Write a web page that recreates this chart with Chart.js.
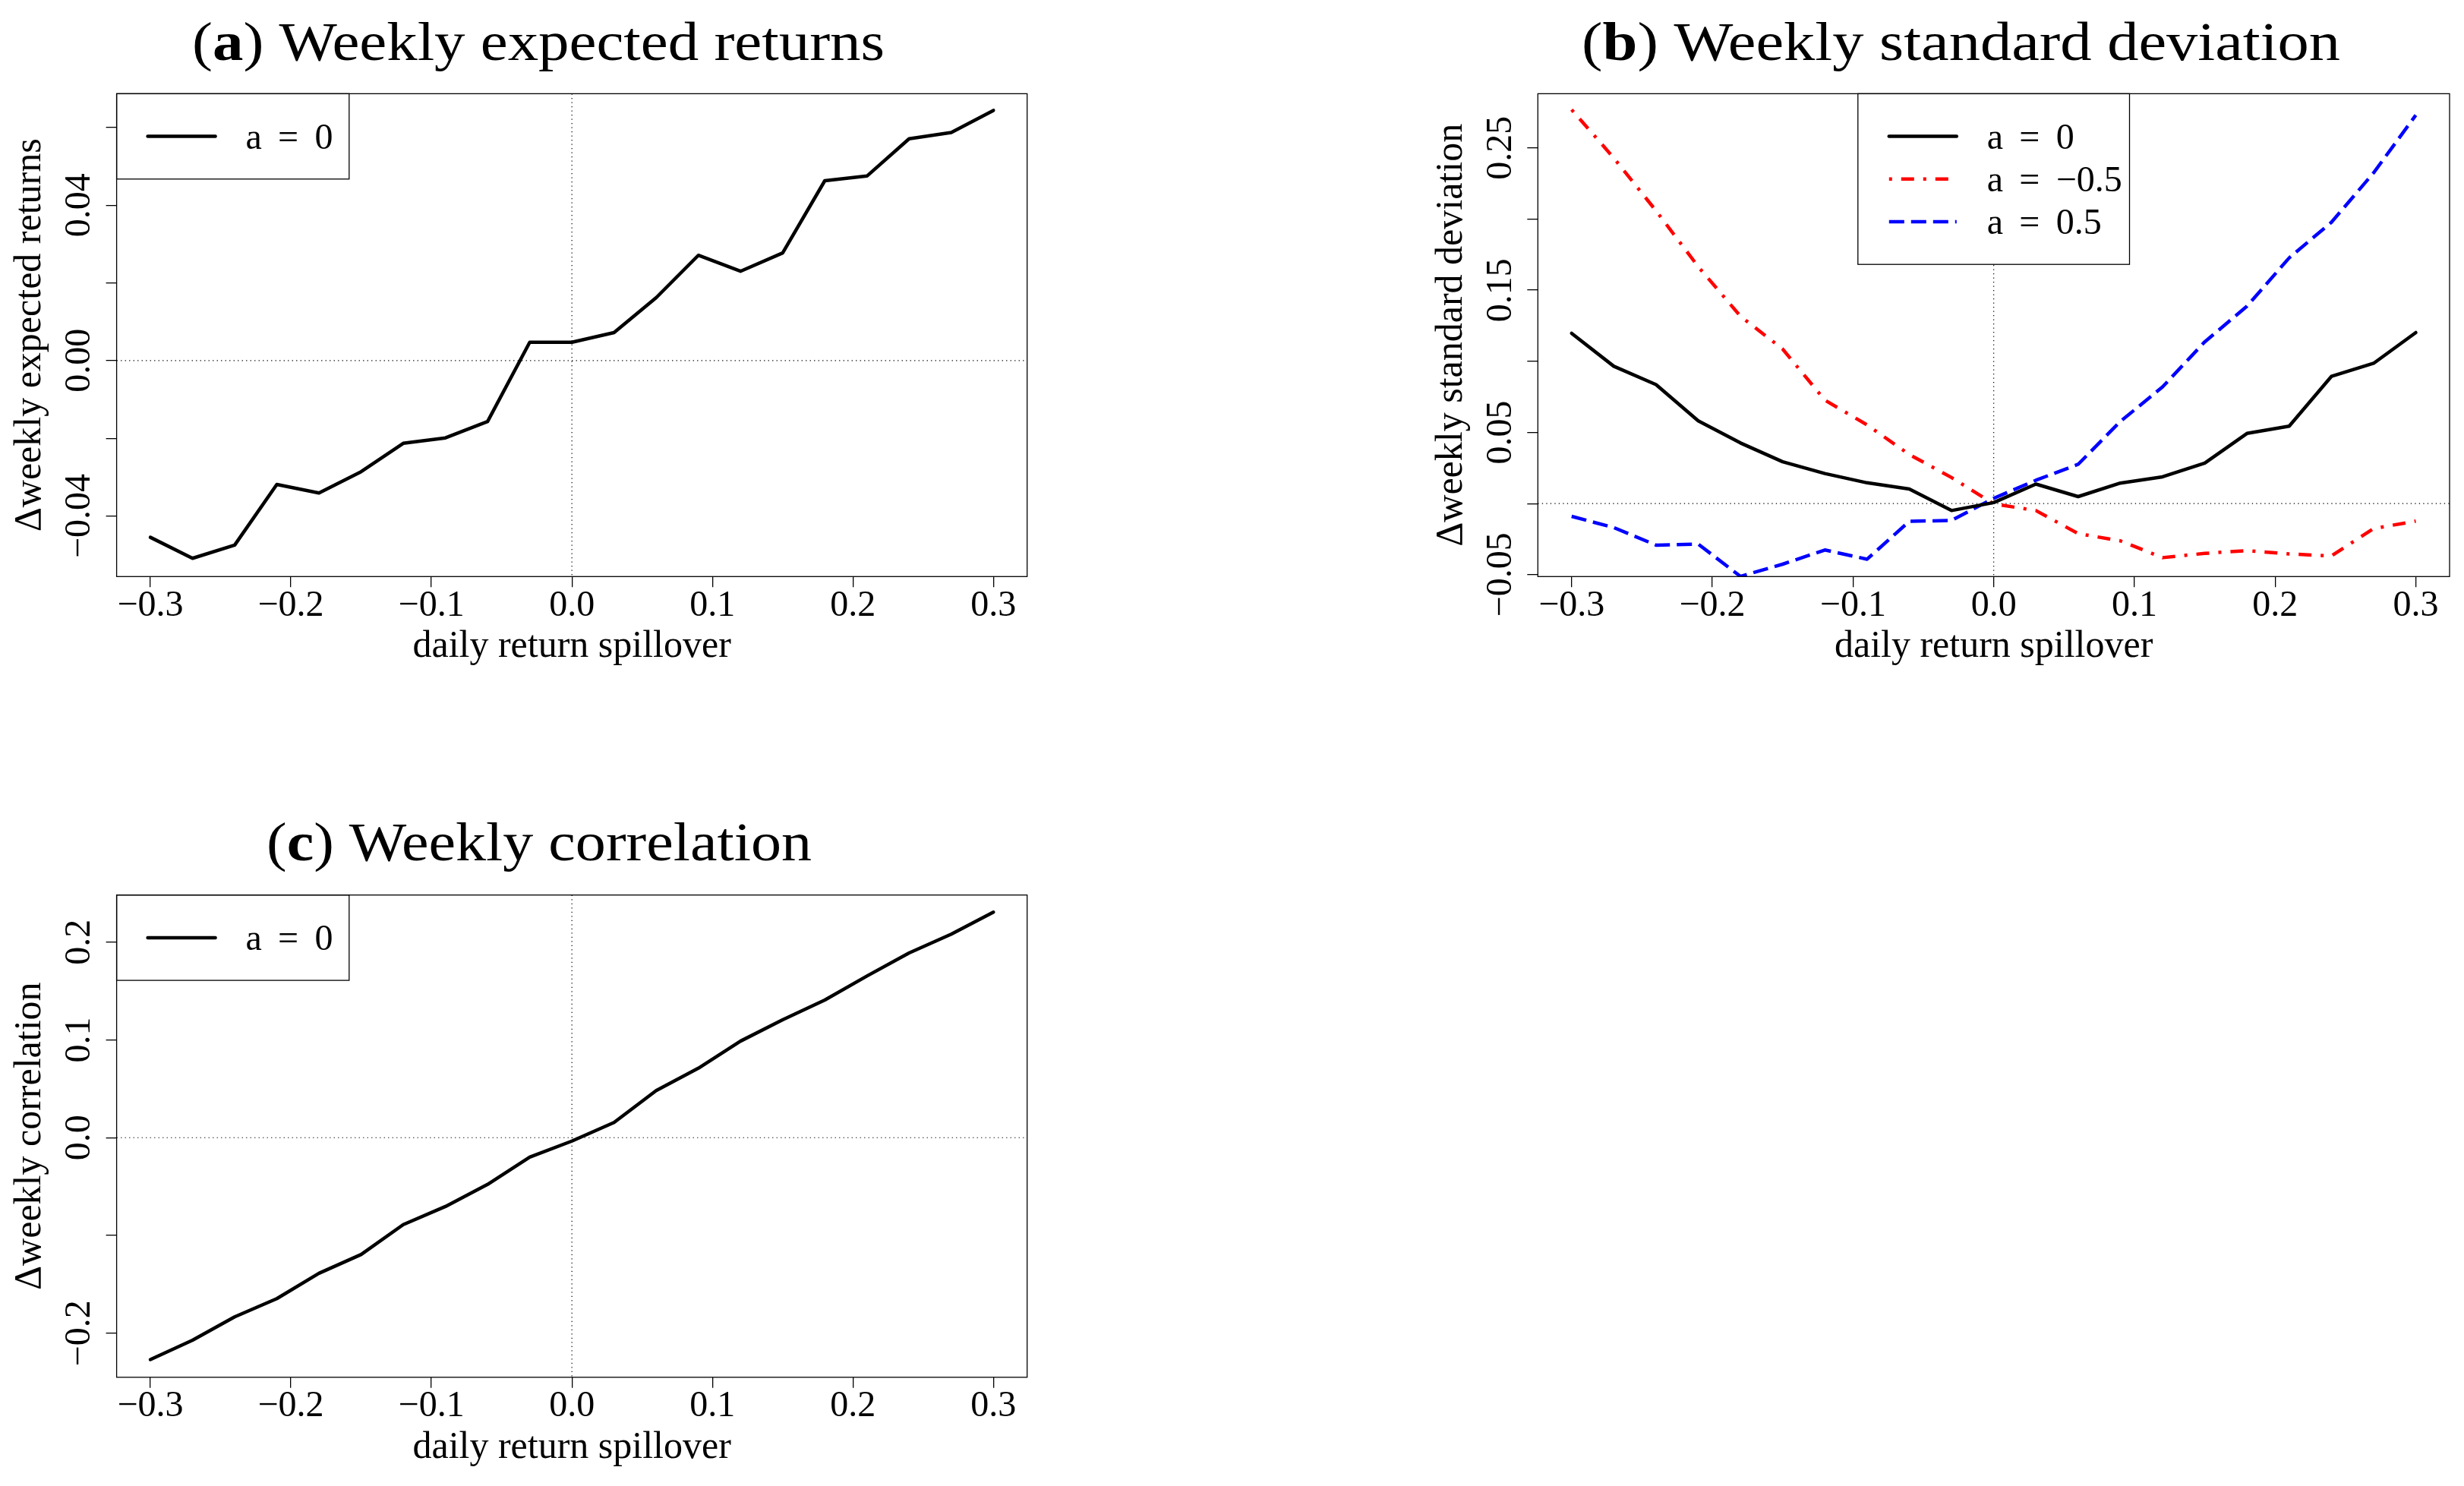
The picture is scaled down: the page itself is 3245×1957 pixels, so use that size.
<!DOCTYPE html>
<html><head><meta charset="utf-8">
<script src="https://cdn.jsdelivr.net/npm/chart.js@4.4.1/dist/chart.umd.min.js"></script>
<style>
html,body{margin:0;padding:0;background:#fff;}
body{width:3245px;height:1957px;position:relative;overflow:hidden;}
canvas{position:absolute;}
</style></head><body>
<canvas id="ca" width="1500" height="960" style="left:0;top:0;width:1500px;height:960px"></canvas>
<canvas id="cb" width="1395" height="960" style="left:1850px;top:0;width:1395px;height:960px"></canvas>
<canvas id="cc" width="1500" height="957" style="left:0;top:1000px;width:1500px;height:957px"></canvas>
<script>
// ---------- data ----------
const spillover = [-0.30,-0.27,-0.24,-0.21,-0.18,-0.15,-0.12,-0.09,-0.06,-0.03,0.00,0.03,0.06,0.09,0.12,0.15,0.18,0.21,0.24,0.27,0.30];

const retA0  = [-0.0455,-0.0509,-0.0475,-0.0319,-0.0341,-0.0286,-0.0213,-0.0199,-0.0157,0.0047,0.0047,0.0072,0.0162,0.0271,0.0230,0.0277,0.0463,0.0475,0.0571,0.0587,0.0644];

const sdA0   = [0.1197,0.0965,0.0836,0.0581,0.0426,0.0294,0.0211,0.0146,0.0102,-0.0049,0.0007,0.0137,0.0049,0.0144,0.0188,0.0285,0.0493,0.0544,0.0894,0.0986,0.1202];
const sdAm05 = [0.2769,0.2429,0.2058,0.1665,0.1317,0.1086,0.0727,0.0553,0.0345,0.0183,-0.0002,-0.0049,-0.0211,-0.0262,-0.0380,-0.0350,-0.0331,-0.0354,-0.0368,-0.0176,-0.0123];
const sdAp05 = [-0.0090,-0.0169,-0.0292,-0.0285,-0.0512,-0.0426,-0.0326,-0.0391,-0.0125,-0.0118,0.0037,0.0164,0.0276,0.0577,0.0820,0.1137,0.1387,0.1727,0.1977,0.2325,0.2730];

const corA0  = [-0.2269,-0.2071,-0.1832,-0.1646,-0.1387,-0.1195,-0.0889,-0.0704,-0.0478,-0.0199,-0.0035,0.0155,0.0481,0.0710,0.0987,0.1205,0.1407,0.1653,0.1889,0.2081,0.2306];

const xTickValues = [-0.3,-0.2,-0.1,0.0,0.1,0.2,0.3];
const xTickLabels = ['\u22120.3','\u22120.2','\u22120.1','0.0','0.1','0.2','0.3'];

const yTicksA  = [-0.04,-0.02,0.00,0.02,0.04,0.06];
const yLabelsA = ['\u22120.04','','0.00','','0.04',''];
const yTicksB  = [-0.05,0.00,0.05,0.10,0.15,0.20,0.25];
const yLabelsB = ['\u22120.05','','0.05','','0.15','','0.25'];
const yTicksC  = [-0.2,-0.1,0.0,0.1,0.2];
const yLabelsC = ['\u22120.2','','0.0','0.1','0.2'];

const legendA = ['a = 0'];
const legendB = ['a = 0','a = \u22120.5','a = 0.5'];
const legendC = ['a = 0'];

const refX = 0, refY = 0;

// ---------- styling / drawing ----------
const FAM = "'Liberation Serif', 'Times New Roman', serif";
Chart.defaults.font.family = FAM;

function pts(ys){ return spillover.map((x,i)=>({x:x, y:ys[i]})); }

const rFrame = {
  id: 'rFrame',
  beforeDatasetsDraw(chart, args, o) {
    const {ctx, chartArea: ca, scales: {x, y}} = chart;
    ctx.save();
    ctx.strokeStyle = '#000'; ctx.lineWidth = 1.2; ctx.setLineDash([1.3, 4.2]);
    const x0 = x.getPixelForValue(refX), y0 = y.getPixelForValue(refY);
    ctx.beginPath();
    ctx.moveTo(x0, ca.top); ctx.lineTo(x0, ca.bottom);
    ctx.moveTo(ca.left, y0); ctx.lineTo(ca.right, y0);
    ctx.stroke();
    ctx.restore();
  },
  afterDraw(chart, args, o) {
    const {ctx, chartArea: ca, scales: {x, y}} = chart;
    ctx.save();
    ctx.setLineDash([]);
    ctx.fillStyle = '#000'; ctx.strokeStyle = '#000';

    // legend (white box)
    const n = chart.data.datasets.length, pitch = 56.2;
    const lw = o.legendWidth;
    const bx = o.legendCenter ? (ca.left + ca.right) / 2 - lw / 2 : ca.left;
    const by = ca.top, bh = pitch * (n + 1);
    ctx.fillStyle = '#fff';
    ctx.fillRect(bx, by, lw, bh);
    ctx.lineWidth = 1.3; ctx.strokeStyle = '#000';
    ctx.strokeRect(bx, by, lw, bh);
    chart.data.datasets.forEach((ds, i) => {
      const ry = by + pitch * (i + 1);
      ctx.save();
      ctx.strokeStyle = ds.borderColor; ctx.lineWidth = ds.borderWidth;
      ctx.setLineDash(ds.borderDash || []); ctx.lineCap = ds.borderDash ? 'butt' : 'round';
      ctx.beginPath(); ctx.moveTo(bx + 41, ry); ctx.lineTo(bx + 130, ry); ctx.stroke();
      ctx.restore();
      const parts = ds.label.split(' = ');
      ctx.fillStyle = '#000';
      ctx.font = '48px ' + FAM;
      ctx.textBaseline = 'alphabetic';
      ctx.textAlign = 'left';  ctx.fillText(parts[0], bx + 170, ry + 16);
      ctx.textAlign = 'center'; ctx.fillText('=', bx + 226, ry + 16);
      ctx.textAlign = 'left';  ctx.fillText(parts[1], bx + 261, ry + 16);
    });

    // frame box
    ctx.lineWidth = 1.3; ctx.strokeStyle = '#000';
    ctx.strokeRect(ca.left, ca.top, ca.right - ca.left, ca.bottom - ca.top);

    ctx.fillStyle = '#000';
    // x tick labels
    ctx.font = '48px ' + FAM;
    ctx.textAlign = 'center'; ctx.textBaseline = 'alphabetic';
    xTickValues.forEach((v, i) => ctx.fillText(xTickLabels[i], x.getPixelForValue(v), ca.bottom + 51.5));
    // y tick labels (parallel to axis)
    o.yTicks.forEach((v, i) => {
      const lab = o.yLabels[i]; if (!lab) return;
      ctx.save(); ctx.translate(ca.left - 35.3, y.getPixelForValue(v)); ctx.rotate(-Math.PI / 2);
      ctx.fillText(lab, 0, 0); ctx.restore();
    });
    // axis titles
    ctx.font = '50px ' + FAM;
    ctx.fillText(o.xTitle, (ca.left + ca.right) / 2, ca.bottom + 106);
    ctx.save(); ctx.translate(ca.left - 100.6, (ca.top + ca.bottom) / 2); ctx.rotate(-Math.PI / 2);
    ctx.fillText(o.yTitle, 0, 0); ctx.restore();

    // panel title with bold letter
    const fs = 71;
    let total = 0;
    o.title.forEach(p => { ctx.font = (p[1] ? 'bold ' : '') + fs + 'px ' + FAM; total += ctx.measureText(p[0]).width; });
    const sx = o.titleW / total;
    ctx.save();
    ctx.translate(o.titleCx - o.titleW / 2, o.titleBase);
    ctx.scale(sx, 1);
    ctx.textAlign = 'left';
    let cx = 0;
    o.title.forEach(p => { ctx.font = (p[1] ? 'bold ' : '') + fs + 'px ' + FAM; ctx.fillText(p[0], cx, 0); cx += ctx.measureText(p[0]).width; });
    ctx.restore();

    ctx.restore();
  }
};

function makeChart(id, datasets, cfg) {
  return new Chart(document.getElementById(id), {
    type: 'line',
    data: { datasets: datasets },
    plugins: [rFrame],
    options: {
      responsive: false, animation: false, devicePixelRatio: 1, events: [],
      layout: { padding: { left: 0, top: cfg.padTop, right: cfg.padRight, bottom: 0 } },
      elements: { point: { radius: 0 }, line: { tension: 0, borderJoinStyle: 'round' } },
      plugins: {
        legend: { display: false }, tooltip: { enabled: false },
        rFrame: cfg.frame
      },
      scales: {
        x: {
          type: 'linear', min: -0.324, max: 0.324,
          afterBuildTicks: ax => { ax.ticks = xTickValues.map(v => ({ value: v })); },
          afterFit: ax => { ax.height = cfg.xHeight; },
          ticks: { display: false },
          grid: { drawOnChartArea: false, drawTicks: true, tickLength: 14, color: '#000', lineWidth: 1.3 },
          border: { display: false }
        },
        y: {
          type: 'linear', min: cfg.yMin, max: cfg.yMax,
          afterBuildTicks: ax => { ax.ticks = cfg.frame.yTicks.map(v => ({ value: v })); },
          afterFit: ax => { ax.width = cfg.yWidth; },
          ticks: { display: false },
          grid: { drawOnChartArea: false, drawTicks: true, tickLength: 14, color: '#000', lineWidth: 1.3 },
          border: { display: false }
        }
      }
    }
  });
}

const solid = (label, ys) => ({ label, data: pts(ys), borderColor: '#000', borderWidth: 4.5, borderCapStyle: 'round', fill: false });

makeChart('ca', [solid(legendA[0], retA0)], {
  padTop: 123.4, padRight: 147.3, yWidth: 153.6, xHeight: 200.7, yMin: -0.0556, yMax: 0.0687,
  frame: {
    yTicks: yTicksA, yLabels: yLabelsA, xTitle: 'daily return spillover', yTitle: '\u0394weekly expected returns',
    legendWidth: 306.2, legendCenter: false,
    title: [['(', false], ['a', true], [') Weekly expected returns', false]], titleCx: 709, titleBase: 78.6, titleW: 912
  }
});

makeChart('cb', [
  solid(legendB[0], sdA0),
  { label: legendB[1], data: pts(sdAm05), borderColor: '#ff0000', borderWidth: 4.5, borderDash: [4, 12, 17, 12], borderCapStyle: 'butt', fill: false },
  { label: legendB[2], data: pts(sdAp05), borderColor: '#0000ff', borderWidth: 4.5, borderDash: [20, 9], borderCapStyle: 'butt', fill: false }
], {
  padTop: 123.4, padRight: 19, yWidth: 175.3, xHeight: 200.7, yMin: -0.0513, yMax: 0.2881,
  frame: {
    yTicks: yTicksB, yLabels: yLabelsB, xTitle: 'daily return spillover', yTitle: '\u0394weekly standard deviation',
    legendWidth: 357.7, legendCenter: true,
    title: [['(', false], ['b', true], [') Weekly standard deviation', false]], titleCx: 732.6, titleBase: 78.6, titleW: 999
  }
});

makeChart('cc', [solid(legendC[0], corA0)], {
  padTop: 178.7, padRight: 147.3, yWidth: 153.6, xHeight: 143.2, yMin: -0.245, yMax: 0.2481,
  frame: {
    yTicks: yTicksC, yLabels: yLabelsC, xTitle: 'daily return spillover', yTitle: '\u0394weekly correlation',
    legendWidth: 306.2, legendCenter: false,
    title: [['(', false], ['c', true], [') Weekly correlation', false]], titleCx: 710, titleBase: 133, titleW: 718
  }
});
</script>
</body></html>
